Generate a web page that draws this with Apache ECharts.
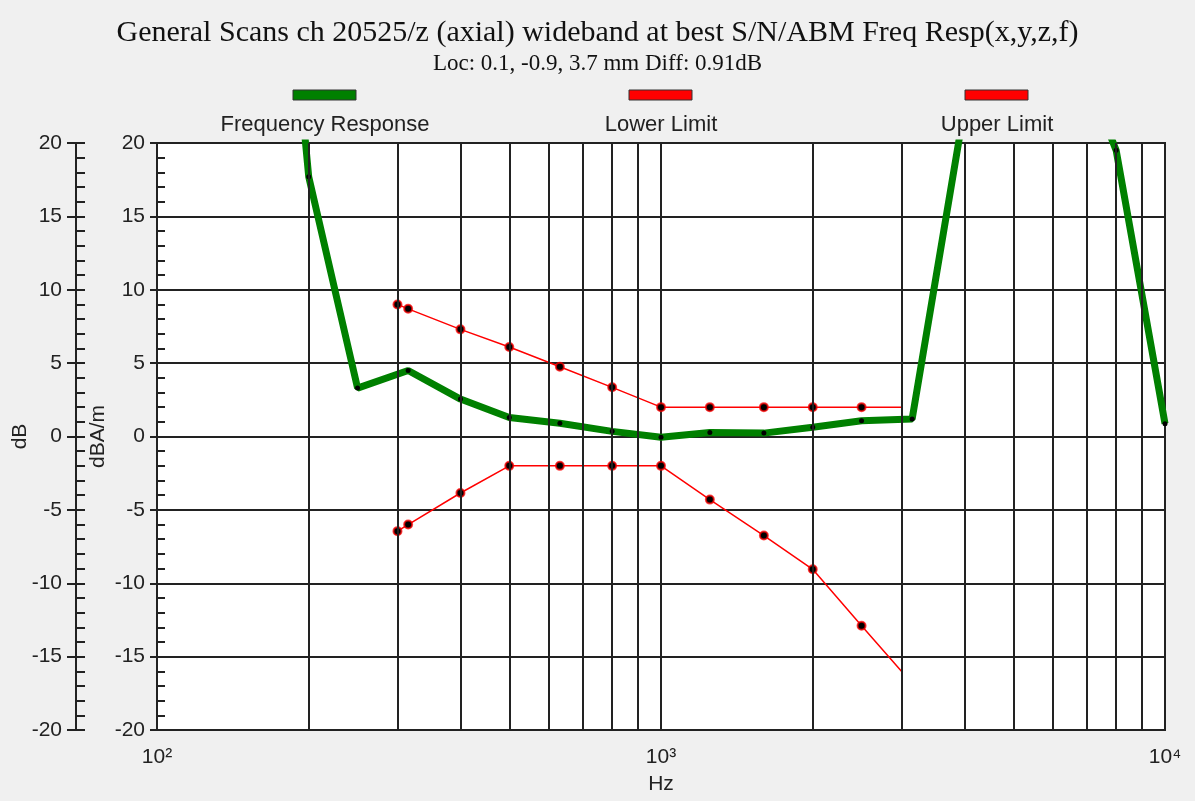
<!DOCTYPE html>
<html lang="en">
  <head>
    <meta charset="UTF-8" />
    <title>Freq Resp</title>
    <script src="https://cdn.jsdelivr.net/npm/echarts@6.0.0/dist/echarts.min.js"></script>
    <style>
      html, body { margin: 0; padding: 0; background: #f0f0f0; }
    </style>
  </head>
  <body>
    <div id="main" style="width: 1195px; height: 801px"></div>
    <script type="text/javascript">
      // frequency response (Hz, dB)
      const respFreqs = [160, 200, 250, 315, 400, 500, 630, 800, 1000, 1250, 1600, 2000, 2500, 3150, 4000, 5000, 6300, 8000, 10000];
      const respValues = [53, 17.7, 3.3, 4.5, 2.55, 1.3, 0.9, 0.35, -0.05, 0.27, 0.23, 0.63, 1.07, 1.2, 22.4, 32, 28.5, 19.5, 0.87];

      // limit lines
      const limitFreqs = [300, 315, 400, 500, 630, 800, 1000, 1250, 1600, 2000, 2500, 3000];
      const upperValues = [9.0, 8.7, 7.3, 6.1, 4.75, 3.35, 2.0, 2.0, 2.0, 2.0, 2.0, 2.0];
      const lowerValues = [-6.45, -6.0, -3.85, -2.0, -2.0, -2.0, -2.0, -4.3, -6.75, -9.05, -12.9, -16.0];

      // extra vertical grid lines (log decades)
      const gridFreqs = [200, 300, 400, 500, 600, 700, 800, 900, 2000, 3000, 4000, 5000, 6000, 7000, 8000, 9000];
      const sup = { 2: "\u00b2", 3: "\u00b3", 4: "\u2074" };

      const ink = "#222";
      const sans = "Liberation Sans";

      const resp = respFreqs.map((f, i) => [f, respValues[i]]);
      const limitPoint = (vals) =>
        limitFreqs.map((f, i) =>
          i === limitFreqs.length - 1 ? { value: [f, vals[i]], symbol: "none" } : [f, vals[i]]
        );

      const yBase = {
        type: "value",
        position: "left",
        min: -20,
        max: 20,
        interval: 5,
        splitLine: { show: false },
      };

      let myChart = echarts.init(document.getElementById("main"));

      let options = {
        backgroundColor: "#f0f0f0",
        animation: false,
        title: {
          text: "General Scans ch 20525/z (axial) wideband at best S/N/ABM Freq Resp(x,y,z,f)",
          subtext: "Loc: 0.1, -0.9, 3.7 mm Diff: 0.91dB",
          left: "center",
          top: 13,
          itemGap: 4,
          textStyle: { fontFamily: "Liberation Serif", fontSize: 30, fontWeight: "normal", color: "#111" },
          subtextStyle: { fontFamily: "Liberation Serif", fontSize: 23, color: "#111" },
        },
        grid: {
          left: 157,
          top: 143,
          width: 1008,
          height: 587,
          outerBoundsMode: "none",
          containLabel: false,
          show: true,
          backgroundColor: "#fff",
          borderColor: ink,
          borderWidth: 2,
        },
        graphic: [
          { type: "rect", shape: { x: 293, y: 90, width: 63, height: 10 }, style: { fill: "#008000", stroke: "#333", lineWidth: 1 } },
          { type: "rect", shape: { x: 629, y: 90, width: 63, height: 10 }, style: { fill: "#ff0000", stroke: "#333", lineWidth: 1 } },
          { type: "rect", shape: { x: 965, y: 90, width: 63, height: 10 }, style: { fill: "#ff0000", stroke: "#333", lineWidth: 1 } },
          { type: "text", x: 325, y: 125, style: { text: "Frequency Response", fontFamily: sans, fontSize: 22, fill: ink, align: "center", verticalAlign: "middle" } },
          { type: "text", x: 661, y: 125, style: { text: "Lower Limit", fontFamily: sans, fontSize: 22, fill: ink, align: "center", verticalAlign: "middle" } },
          { type: "text", x: 997, y: 125, style: { text: "Upper Limit", fontFamily: sans, fontSize: 22, fill: ink, align: "center", verticalAlign: "middle" } },
        ],
        xAxis: {
          type: "log",
          logBase: 10,
          min: 100,
          max: 10000,
          name: "Hz",
          nameLocation: "middle",
          nameGap: 44,
          nameTextStyle: { fontFamily: sans, fontSize: 21, color: ink },
          axisLine: { lineStyle: { color: ink, width: 2 } },
          axisTick: { length: 15, lineStyle: { color: ink, width: 2 } },
          axisLabel: {
            margin: 17,
            fontFamily: sans,
            fontSize: 21,
            color: ink,
            formatter: (v) => "10" + sup[Math.round(Math.log10(v))],
          },
          splitLine: { show: true, lineStyle: { color: ink, width: 2 } },
        },
        yAxis: [
          {
            ...yBase,
            offset: 0,
            name: "dBA/m",
            nameLocation: "middle",
            nameRotate: 90,
            nameGap: 48,
            nameMoveOverlap: false,
            nameTextStyle: { fontFamily: sans, fontSize: 21, color: ink },
            axisLine: { show: true, lineStyle: { color: ink, width: 2 } },
            axisTick: { show: true, length: 7, lineStyle: { color: ink, width: 2 } },
            axisLabel: { margin: 12, fontFamily: sans, fontSize: 21, color: ink },
            splitLine: { show: true, lineStyle: { color: ink, width: 2 } },
          },
          {
            ...yBase,
            offset: 0,
            axisLine: { show: false },
            axisTick: { show: true, inside: true, length: 8, lineStyle: { color: ink, width: 2 } },
            minorTick: { show: true, splitNumber: 5, length: 8, lineStyle: { color: ink, width: 2 } },
            axisLabel: { show: false },
          },
          {
            ...yBase,
            offset: 81,
            name: "dB",
            nameLocation: "middle",
            nameRotate: 90,
            nameGap: 45,
            nameMoveOverlap: false,
            nameTextStyle: { fontFamily: sans, fontSize: 21, color: ink },
            axisLine: { show: true, lineStyle: { color: ink, width: 2 } },
            axisTick: { show: true, length: 9, lineStyle: { color: ink, width: 2 } },
            axisLabel: { margin: 14, fontFamily: sans, fontSize: 21, color: ink },
          },
          {
            ...yBase,
            offset: 81,
            axisLine: { show: false },
            axisTick: { show: true, inside: true, length: 9, lineStyle: { color: ink, width: 2 } },
            minorTick: { show: true, splitNumber: 5, length: 9, lineStyle: { color: ink, width: 2 } },
            axisLabel: { show: false },
          },
        ],
        series: [
          {
            name: "grid",
            type: "line",
            data: [],
            z: 1,
            silent: true,
            markLine: {
              silent: true,
              symbol: "none",
              label: { show: false },
              lineStyle: { color: ink, width: 2, type: "solid" },
              data: gridFreqs.map((f) => ({ xAxis: f })),
            },
          },
          {
            name: "Lower Limit",
            type: "line",
            data: limitPoint(lowerValues),
            z: 3,
            symbol: "circle",
            symbolSize: 8,
            lineStyle: { color: "#ff0000", width: 1.5 },
            itemStyle: { color: "#000", borderColor: "rgba(255,0,0,0.75)", borderWidth: 2 },
          },
          {
            name: "Upper Limit",
            type: "line",
            data: limitPoint(upperValues),
            z: 3,
            symbol: "circle",
            symbolSize: 8,
            lineStyle: { color: "#ff0000", width: 1.5 },
            itemStyle: { color: "#000", borderColor: "rgba(255,0,0,0.75)", borderWidth: 2 },
          },
          {
            name: "Frequency Response",
            type: "line",
            data: resp,
            z: 4,
            clip: true,
            symbol: "circle",
            symbolSize: 5,
            lineStyle: { color: "#008000", width: 7 },
            itemStyle: { color: "#000", borderWidth: 0 },
          },
        ],
      };

      myChart.setOption(options);
    </script>
  </body>
</html>
